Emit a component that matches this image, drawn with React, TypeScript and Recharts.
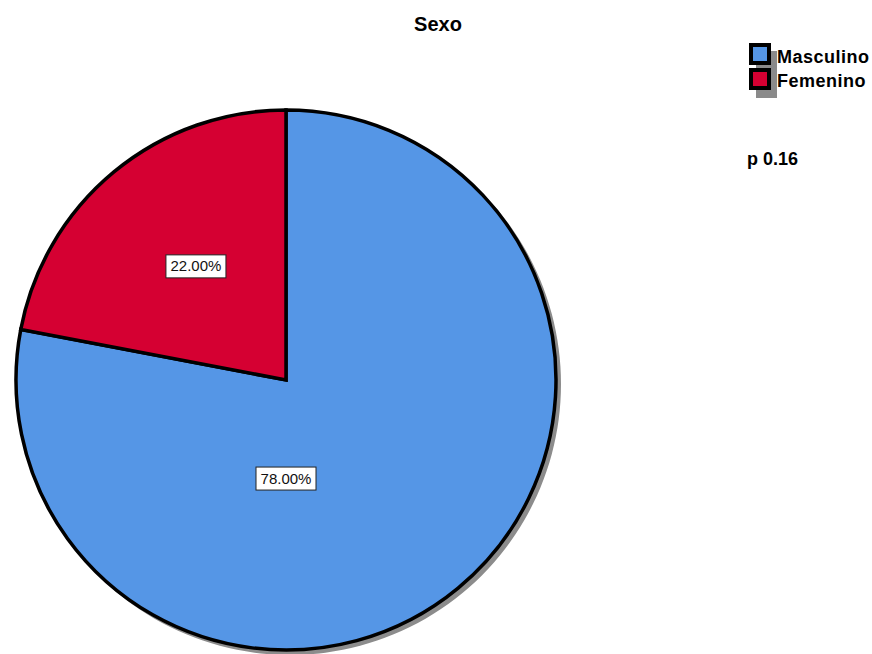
import { PieChart, Pie, Cell, Legend } from 'recharts';

const categories = ['Masculino', 'Femenino'];
const percentages = [78, 22];
const sliceColors = ['#5596e6', '#d50032'];
const chartTitle = 'Sexo';
const pValueText = 'p 0.16';

const FONT = '"Liberation Sans", Arial, sans-serif';

// where SPSS drops each percentage box (angle in degrees, fraction of radius)
const labelSpots = [
  { angle: -90, frac: 0.365 },
  { angle: 128.4, frac: 0.537 },
];

const pieData = categories.map((name, i) => ({ name, value: percentages[i] }));
const shadowData = [{ name: 'shadow', value: 1 }];

const renderLabel = (props: any) => {
  const { cx, cy, outerRadius, index, value } = props;
  const spot = labelSpots[index];
  const rad = (spot.angle * Math.PI) / 180;
  const x = cx + Math.cos(rad) * outerRadius * spot.frac;
  const y = cy - Math.sin(rad) * outerRadius * spot.frac;
  const w = 60;
  const h = 23;
  return (
    <g>
      <rect x={x - w / 2} y={y - h / 2} width={w} height={h} fill="#fff" stroke="#222" strokeWidth={1} />
      <text x={x} y={y + 5} textAnchor="middle" fontFamily={FONT} fontSize={15} fill="#111">
        {`${value.toFixed(2)}%`}
      </text>
    </g>
  );
};

const LegendBox = () => (
  <svg width={134} height={70}>
    {/* drop shadow behind the swatches */}
    <rect x={18} y={15} width={21} height={47} fill="#8a8a8a" />
    {categories.map((name, i) => (
      <g key={name}>
        <rect x={13} y={9 + i * 25} width={18} height={18} fill={sliceColors[i]} stroke="#000" strokeWidth={4} />
        <text x={39} y={27 + i * 24} fontFamily={FONT} fontSize={18} fontWeight="bold" letterSpacing={0.5} fill="#000">
          {name}
        </text>
      </g>
    ))}
  </svg>
);

export default function App() {
  return (
    <div style={{ position: 'absolute', left: 0, top: 0, width: 872, height: 654, background: '#fff' }}>
      <div
        style={{
          position: 'absolute', left: 0, width: 872, top: 13, textAlign: 'center',
          fontFamily: FONT, fontWeight: 'bold', fontSize: 20, color: '#000', paddingLeft: 2,
        }}
      >
        {chartTitle}
      </div>
      <div
        style={{
          position: 'absolute', left: 747, top: 149,
          fontFamily: FONT, fontWeight: 'bold', fontSize: 18, color: '#000',
        }}
      >
        {pValueText}
      </div>
      <PieChart width={872} height={654} margin={{ top: 0, right: 0, bottom: 0, left: 0 }}>
        <Pie
          data={shadowData}
          dataKey="value"
          cx={290}
          cy={384}
          outerRadius={271}
          fill="#8c8c8c"
          stroke="none"
          legendType="none"
          isAnimationActive={false}
        />
        <Pie
          data={pieData}
          dataKey="value"
          nameKey="name"
          cx={286}
          cy={380}
          outerRadius={270}
          startAngle={90}
          endAngle={-270}
          stroke="#000"
          strokeWidth={3.5}
          label={renderLabel}
          labelLine={false}
          isAnimationActive={false}
        >
          {pieData.map((d, i) => (
            <Cell key={d.name} fill={sliceColors[i]} stroke="#000" strokeWidth={3.5} />
          ))}
        </Pie>
        <Legend
          content={<LegendBox />}
          wrapperStyle={{ position: 'absolute', left: 738, top: 36, width: 134, height: 70 }}
        />
      </PieChart>
    </div>
  );
}
